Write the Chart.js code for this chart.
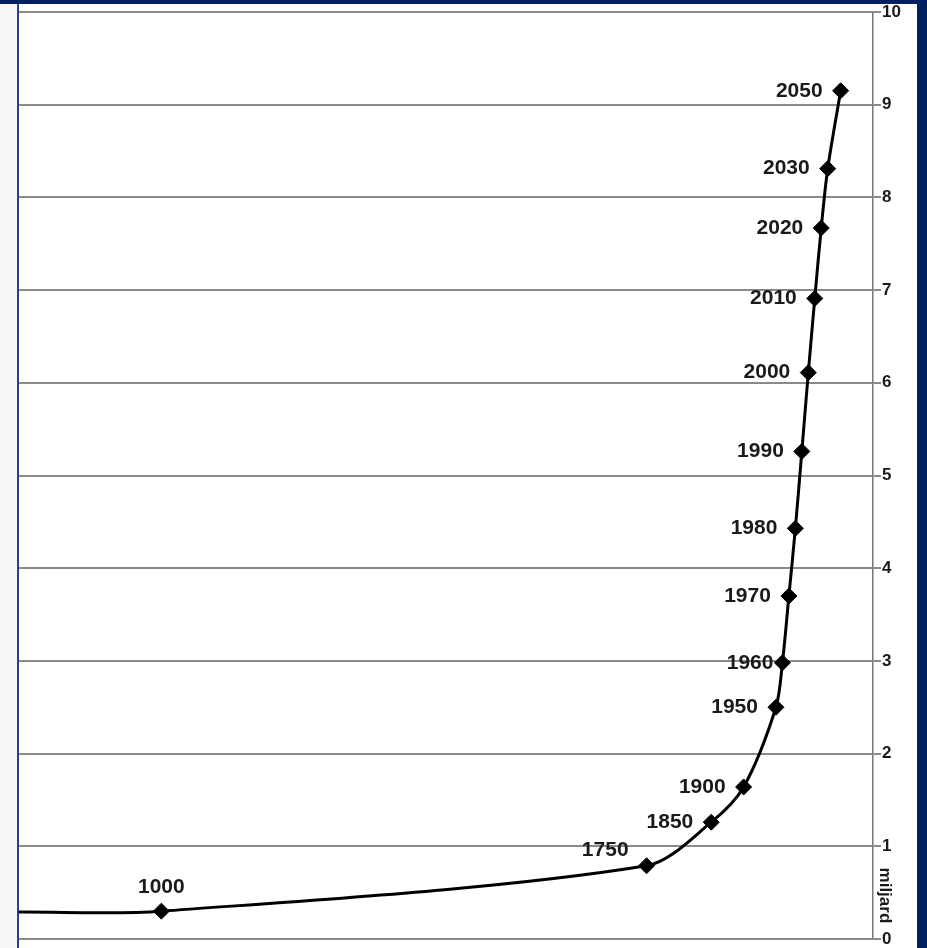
<!DOCTYPE html>
<html>
<head>
<meta charset="utf-8">
<script src="https://cdn.jsdelivr.net/npm/chart.js@4"></script>
<style>
  body { margin: 0; background: #002060; overflow: hidden; }
  #wrap { position: absolute; left: 0; top: 0; width: 927px; height: 948px; }
  .layer { position: absolute; }
  #holder { position: absolute; left: 0; top: 0; width: 927px; height: 948px; }
</style>
</head>
<body>
<div id="wrap">
  <div class="layer" style="left:0;top:4px;width:917px;height:944px;background:#ffffff"></div>
  <div class="layer" style="left:0;top:4px;width:17px;height:944px;background:#f6f6f6"></div>
  <div class="layer" style="left:17px;top:4px;width:2px;height:944px;background:#24418c"></div>
  <div id="holder"><canvas id="popChart"></canvas></div>
</div>
<script>
/* World population (miljard) by year, Chart.js line chart */

// data; first entry is where the line enters on the left
const years = [780, 1000, 1750, 1850, 1900, 1950, 1960, 1970, 1980, 1990, 2000, 2010, 2020, 2030, 2050];
const population = [0.29, 0.30, 0.79, 1.26, 1.64, 2.50, 2.98, 3.70, 4.43, 5.26, 6.11, 6.91, 7.67, 8.31, 9.15];
const yearMin = 780;
const yearMax = 2100;
const yTickMin = 0;
const yTickMax = 10;
const unitLabel = 'miljard';

const points = years.map((y, i) => ({ x: y, y: population[i] }));

const labelFont = 'bold 21px "Liberation Sans", Arial, sans-serif';

// year labels next to the markers
const yearLabels = {
  id: 'yearLabels',
  afterDatasetsDraw(chart) {
    const ctx = chart.ctx;
    const meta = chart.getDatasetMeta(0);
    ctx.save();
    ctx.font = labelFont;
    ctx.fillStyle = '#1a1a1a';
    ctx.textBaseline = 'middle';
    meta.data.forEach((pt, i) => {
      if (i === 0) return;
      const text = String(years[i]);
      if (years[i] === 1000) {
        ctx.textAlign = 'center';
        ctx.fillText(text, pt.x, pt.y - 24);
      } else if (years[i] === 1750) {
        ctx.textAlign = 'right';
        ctx.fillText(text, pt.x - 18, pt.y - 16);
      } else if (years[i] === 1960) {
        ctx.textAlign = 'right';
        ctx.fillText(text, pt.x - 9, pt.y);
      } else {
        ctx.textAlign = 'right';
        ctx.fillText(text, pt.x - 18, pt.y);
      }
    });
    ctx.restore();
  }
};

// rotated unit label sitting in the tick column between 0 and 1
const unitText = {
  id: 'unitText',
  afterDraw(chart) {
    const y = chart.scales.y;
    const ctx = chart.ctx;
    ctx.save();
    ctx.translate(y.left + 12, y.getPixelForValue(0.47));
    ctx.rotate(Math.PI / 2);
    ctx.font = 'bold 17px "Liberation Sans", Arial, sans-serif';
    ctx.fillStyle = '#1a1a1a';
    ctx.textAlign = 'center';
    ctx.textBaseline = 'middle';
    ctx.fillText(unitLabel, 0, 0);
    ctx.restore();
  }
};

const popCanvas = document.getElementById('popChart');

const popConfig = {
  type: 'line',
  data: {
    datasets: [{
      label: 'Befolkning',
      data: points,
      borderColor: '#000000',
      borderWidth: 3,
      tension: 0.3,
      pointStyle: 'rectRot',
      pointRadius: years.map((y, i) => i === 0 ? 0 : 8),
      pointBackgroundColor: '#000000',
      pointBorderColor: '#000000',
      pointBorderWidth: 1,
      fill: false
    }]
  },
  options: {
    responsive: true,
    maintainAspectRatio: false,
    animation: false,
    layout: {
      padding: { left: 19, top: 12, bottom: 7, right: 10 }
    },
    plugins: {
      legend: { display: false },
      tooltip: { enabled: false }
    },
    scales: {
      x: {
        type: 'linear',
        display: false,
        min: yearMin,
        max: yearMax
      },
      y: {
        position: 'right',
        min: yTickMin,
        max: yTickMax,
        afterFit(scale) {
          scale.width = 44;
          scale.paddingTop = 0;
          scale.paddingBottom = 0;
        },
        grid: {
          color: '#8a8a8a',
          lineWidth: 2,
          drawTicks: true,
          tickLength: 8
        },
        border: {
          display: true,
          color: '#777777',
          width: 1.5
        },
        ticks: {
          stepSize: 1,
          padding: 1,
          color: '#1a1a1a',
          font: { family: '"Liberation Sans", Arial, sans-serif', size: 17, weight: 'bold' }
        }
      }
    }
  },
  plugins: [yearLabels, unitText]
};

new Chart(popCanvas, popConfig);
</script>
</body>
</html>
